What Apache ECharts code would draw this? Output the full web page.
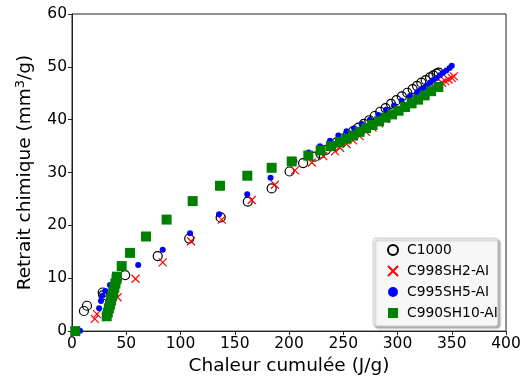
<!DOCTYPE html>
<html>
<head>
<meta charset="utf-8">
<script src="https://cdn.jsdelivr.net/npm/echarts@6/dist/echarts.min.js"></script>
<style>html,body{margin:0;padding:0;background:#fff}#c{width:527px;height:381px}</style>
</head>
<body>
<div id="c"></div>
<script>
const seriesNames = ['C1000', 'C998SH2-AI', 'C995SH5-AI', 'C990SH10-AI'];

const c1000X = [11, 13.8, 28.3, 28.8, 49, 79, 108, 137, 162, 184, 200.5, 213, 224, 229, 234, 239, 244, 249, 254, 259, 264, 269, 274, 279, 284, 289, 294, 299, 304, 309, 314, 318, 322, 326, 330, 333, 336, 338];
const c1000Y = [3.8, 4.8, 7.3, 6.8, 10.6, 14.2, 17.5, 21.5, 24.5, 27.0, 30.2, 31.8, 33.0, 33.6, 34.3, 35.0, 35.7, 36.4, 37.1, 37.8, 38.5, 39.2, 39.9, 40.7, 41.5, 42.2, 43.0, 43.7, 44.4, 45.1, 45.8, 46.4, 47.0, 47.5, 48.0, 48.4, 48.7, 48.9];

const c998X = [21, 23, 42, 58.5, 83.6, 109.7, 138, 165.6, 187, 205.5, 221, 231.6, 242.4, 247, 253, 259, 265, 271, 277, 283, 289, 295, 301, 307, 313, 319, 324, 329, 334, 338, 341, 344, 347, 350, 352];
const c998Y = [2.3, 3.2, 6.4, 9.9, 13.0, 17.0, 21.1, 24.8, 27.7, 30.4, 31.9, 33.1, 34.0, 34.7, 35.4, 36.1, 36.9, 37.7, 38.5, 39.3, 40.1, 40.9, 41.7, 42.5, 43.3, 44.1, 44.8, 45.5, 46.1, 46.6, 47.0, 47.3, 47.6, 47.9, 48.2];

const c995X = [7.4, 25, 26.7, 28, 30.7, 35, 61, 83.6, 108.8, 135.5, 161.5, 183, 205, 218, 228.6, 237.8, 245.5, 253, 260, 267, 274.6, 282.3, 289.4, 296.8, 303.8, 311.5, 318, 321, 324, 327, 330, 333, 336, 339, 342, 345, 348, 350];
const c995Y = [0.05, 4.3, 5.7, 6.7, 7.6, 8.7, 12.5, 15.4, 18.5, 22.1, 25.9, 29.0, 32.2, 33.8, 35.0, 36.0, 37.0, 37.8, 38.4, 39.2, 40.0, 40.9, 41.9, 42.7, 43.6, 44.5, 45.2, 45.6, 46.0, 46.5, 47.0, 47.5, 47.9, 48.4, 48.9, 49.3, 49.8, 50.2];

const c990X = [3, 32, 33, 34, 35, 36, 37, 38, 39, 40, 41, 41.5, 45.8, 53.5, 68.2, 87.2, 111.2, 136.4, 161.6, 184, 202.5, 217.8, 229.2, 238.7, 247, 253, 259, 265, 271, 277, 283, 289, 295, 301, 307, 313, 319, 325, 331, 337.6];
const c990Y = [0, 2.8, 3.5, 4.3, 5.0, 5.8, 6.6, 7.4, 8.2, 9.0, 9.8, 10.3, 12.3, 14.8, 17.9, 21.1, 24.6, 27.5, 29.4, 30.9, 32.1, 33.2, 34.2, 35.0, 35.8, 36.4, 37.0, 37.7, 38.4, 39.0, 39.7, 40.4, 41.0, 41.7, 42.4, 43.1, 43.8, 44.6, 45.4, 46.2];

const xTicks = [0, 50, 100, 150, 200, 250, 300, 350, 400];
const yTicks = [0, 10, 20, 30, 40, 50, 60];

function pairs(xs, ys) { return xs.map((x, i) => [x, ys[i]]); }

const FONT = 'DejaVu Sans';
const crossPath = 'path://M0,0L10,10M10,0L0,10';

const chart = echarts.init(document.getElementById('c'), null, {renderer: 'canvas'});
chart.setOption({
  animation: false,
  backgroundColor: '#fff',
  textStyle: {fontFamily: FONT},
  grid: {left: 72, right: 21, top: 14, bottom: 49, show: true, borderColor: '#222', borderWidth: 1, backgroundColor: 'transparent'},
  xAxis: {
    type: 'value', min: xTicks[0], max: xTicks[xTicks.length - 1], interval: 50,
    name: 'Chaleur cumulée (J/g)', nameLocation: 'middle', nameGap: 24,
    nameTextStyle: {fontFamily: FONT, fontSize: 18.5, color: '#000'},
    axisLine: {show: true, lineStyle: {color: '#222', width: 1}},
    axisTick: {show: true, length: 4, lineStyle: {color: '#222'}},
    axisLabel: {fontFamily: FONT, fontSize: 15.5, color: '#000', margin: 5},
    splitLine: {show: false}
  },
  yAxis: {
    type: 'value', min: yTicks[0], max: yTicks[yTicks.length - 1], interval: 10,
    name: 'Retrait chimique (mm{sup|3}/g)', nameLocation: 'middle', nameGap: 35,
    nameTextStyle: {fontFamily: FONT, fontSize: 18.5, color: '#000',
      rich: {sup: {fontFamily: FONT, fontSize: 13, color: '#000', padding: [0, 0, 10, 0]}}},
    axisLine: {show: true, lineStyle: {color: '#222', width: 1}},
    axisTick: {show: true, length: 4, lineStyle: {color: '#222'}},
    axisLabel: {fontFamily: FONT, fontSize: 15.5, color: '#000', margin: 5},
    splitLine: {show: false}
  },
  legend: {
    orient: 'vertical', left: 373, top: 238,
    padding: [5, 0, 6, 14], itemGap: 7, itemWidth: 10, itemHeight: 10,
    backgroundColor: 'rgba(255,255,255,0.9)', borderColor: '#cccccc', borderWidth: 1, borderRadius: 3,
    shadowColor: 'rgba(0,0,0,0.35)', shadowBlur: 2, shadowOffsetX: 2, shadowOffsetY: 2,
    textStyle: {fontFamily: FONT, fontSize: 13.8, color: '#000', padding: [0, 0, 0, 4]},
    data: [
      {name: seriesNames[0], icon: 'circle'},
      {name: seriesNames[1], icon: crossPath},
      {name: seriesNames[2], icon: 'circle'},
      {name: seriesNames[3], icon: 'rect'}
    ]
  },
  series: [
    {name: seriesNames[0], type: 'scatter', data: pairs(c1000X, c1000Y), symbol: 'circle', symbolSize: 9,
     itemStyle: {color: 'rgba(0,0,0,0)', borderColor: '#000', borderWidth: 1.2, opacity: 1}},
    {name: seriesNames[1], type: 'scatter', data: pairs(c998X, c998Y), symbol: crossPath, symbolSize: 8,
     itemStyle: {color: 'rgba(0,0,0,0)', borderColor: '#ff0000', borderWidth: 1.2, opacity: 1}},
    {name: seriesNames[2], type: 'scatter', data: pairs(c995X, c995Y), symbol: 'circle', symbolSize: 6,
     itemStyle: {color: '#0000ff', opacity: 1}},
    {name: seriesNames[3], type: 'scatter', data: pairs(c990X, c990Y), symbol: 'rect', symbolSize: 10,
     itemStyle: {color: '#008000', opacity: 1}}
  ]
});
</script>
</body>
</html>
